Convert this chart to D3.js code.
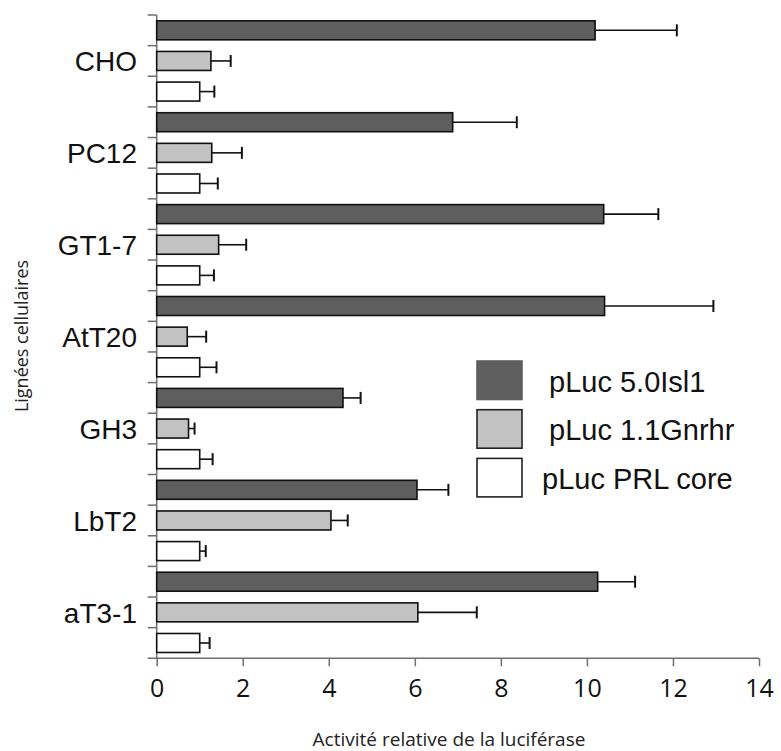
<!DOCTYPE html>
<html>
<head>
<meta charset="utf-8">
<script src="https://cdn.jsdelivr.net/npm/d3@7"></script>
<style>
    body { margin: 0; background: #fff; }
    svg { display: block; }
</style>
</head>
<body>
<div id="chart"></div>
<script>
// Cell lines (top to bottom) and the three constructs
const cellLines = ["CHO", "PC12", "GT1-7", "AtT20", "GH3", "LbT2", "aT3-1"];
const seriesNames = ["pLuc 5.0Isl1", "pLuc 1.1Gnrhr", "pLuc PRL core"];
const xTicks = [0, 2, 4, 6, 8, 10, 12, 14];

// Relative luciferase activity
const isl1Values = [10.19, 6.88, 10.39, 10.41, 4.33, 6.05, 10.25];
const isl1Errors = [1.90, 1.49, 1.27, 2.53, 0.41, 0.73, 0.87];
const gnrhrValues = [1.26, 1.28, 1.44, 0.71, 0.74, 4.05, 6.07];
const gnrhrErrors = [0.46, 0.70, 0.64, 0.44, 0.14, 0.39, 1.37];
const prlValues = [1.0, 1.0, 1.0, 1.0, 1.0, 1.0, 1.0];
const prlErrors = [0.34, 0.42, 0.33, 0.39, 0.30, 0.14, 0.23];

const seriesValues = [isl1Values, gnrhrValues, prlValues];
const seriesErrors = [isl1Errors, gnrhrErrors, prlErrors];
const seriesFill = ["#5e5e5e", "#c2c2c2", "#ffffff"];

const width = 781, height = 751;
const svg = d3.select("#chart").append("svg")
    .attr("width", width)
    .attr("height", height);

// flatten into one row per bar
let rows = [];
cellLines.forEach((c, i) => {
    seriesNames.forEach((s, j) => {
        rows.push({ line: c, series: s, idx: j, value: seriesValues[j][i], err: seriesErrors[j][i] });
    });
});

// scales
const x = d3.scaleLinear().domain([0, 14]).range([156.7, 759]);
const y = d3.scaleBand().domain(cellLines).range([15, 658.3]);
const ySlot = d3.scaleBand().domain(seriesNames).range([0, y.bandwidth()]);
const barPad = ySlot.bandwidth() * 0.19;
const barH = ySlot.bandwidth() - 2 * barPad;

const axisColor = "#6e6e6e";

// y axis line + ticks between every bar
svg.append("line")
    .attr("x1", x(0)).attr("x2", x(0))
    .attr("y1", y.range()[0]).attr("y2", y.range()[1])
    .attr("stroke", axisColor).attr("stroke-width", 1.5);

let tickYs = [];
cellLines.forEach(c => seriesNames.forEach(s => tickYs.push(y(c) + ySlot(s))));
svg.selectAll("line.ytick").data(tickYs).enter().append("line")
    .attr("class", "ytick")
    .attr("x1", x(0) - 9).attr("x2", x(0))
    .attr("y1", d => d).attr("y2", d => d)
    .attr("stroke", axisColor).attr("stroke-width", 1.5);

// x axis
const xAxis = d3.axisBottom(x).tickValues(xTicks).tickSize(8).tickSizeOuter(0).tickPadding(13);
const gx = svg.append("g")
    .attr("transform", `translate(0,${y.range()[1]})`)
    .call(xAxis);
gx.select(".domain").remove();
gx.selectAll(".tick line").attr("stroke", axisColor).attr("stroke-width", 1.5);
gx.selectAll(".tick text")
    .attr("font-family", "'Open Sans', sans-serif")
    .attr("font-size", "25px")
    .attr("fill", "#111");
gx.append("line")
    .attr("x1", x(0) - 9).attr("x2", x(14))
    .attr("y1", 0).attr("y2", 0)
    .attr("stroke", axisColor).attr("stroke-width", 1.5);

// category labels
svg.selectAll("text.cat").data(cellLines).enter().append("text")
    .attr("class", "cat")
    .attr("x", 137)
    .attr("y", d => y(d) + y.bandwidth() / 2 + 10.5)
    .attr("text-anchor", "end")
    .attr("font-family", "'Liberation Sans', Arial, sans-serif")
    .attr("font-size", "28px")
    .attr("fill", "#111")
    .text(d => d);

// bars
svg.selectAll("rect.bar").data(rows).enter().append("rect")
    .attr("class", "bar")
    .attr("x", x(0))
    .attr("y", d => y(d.line) + ySlot(d.series) + barPad)
    .attr("width", d => x(d.value) - x(0))
    .attr("height", barH)
    .attr("fill", d => seriesFill[d.idx])
    .attr("stroke", "#111")
    .attr("stroke-width", 1.6);

// error bars
const errG = svg.selectAll("g.err").data(rows).enter().append("g").attr("class", "err");
errG.append("line")
    .attr("x1", d => x(d.value)).attr("x2", d => x(d.value + d.err))
    .attr("y1", d => y(d.line) + ySlot(d.series) + ySlot.bandwidth() / 2)
    .attr("y2", d => y(d.line) + ySlot(d.series) + ySlot.bandwidth() / 2)
    .attr("stroke", "#111").attr("stroke-width", 1.6);
errG.append("line")
    .attr("x1", d => x(d.value + d.err)).attr("x2", d => x(d.value + d.err))
    .attr("y1", d => y(d.line) + ySlot(d.series) + ySlot.bandwidth() / 2 - 6)
    .attr("y2", d => y(d.line) + ySlot(d.series) + ySlot.bandwidth() / 2 + 6)
    .attr("stroke", "#111").attr("stroke-width", 2);

// axis titles
svg.append("text")
    .attr("x", 449)
    .attr("y", 746)
    .attr("text-anchor", "middle")
    .attr("font-family", "'Open Sans', sans-serif")
    .attr("font-size", "19px")
    .attr("fill", "#222")
    .text("Activité relative de la luciférase");

svg.append("text")
    .attr("transform", "translate(28,336) rotate(-90)")
    .attr("text-anchor", "middle")
    .attr("font-family", "'Open Sans', sans-serif")
    .attr("font-size", "18px")
    .attr("fill", "#222")
    .text("Lignées cellulaires");

// legend
const legend = svg.append("g").attr("class", "legend");
const legendX = [549, 549, 542];
seriesNames.forEach((s, j) => {
    const top = 361 + j * 48.7;
    legend.append("rect")
        .attr("x", 477)
        .attr("y", top)
        .attr("width", 45)
        .attr("height", 38.5)
        .attr("fill", seriesFill[j])
        .attr("stroke", j === 0 ? "#5e5e5e" : "#222")
        .attr("stroke-width", 1.6);
    legend.append("text")
        .attr("x", legendX[j])
        .attr("y", top + 19 + 11.5)
        .attr("font-family", "'Liberation Sans', Arial, sans-serif")
        .attr("font-size", "29px")
        .attr("fill", "#111")
        .text(s);
});
</script>
</body>
</html>
